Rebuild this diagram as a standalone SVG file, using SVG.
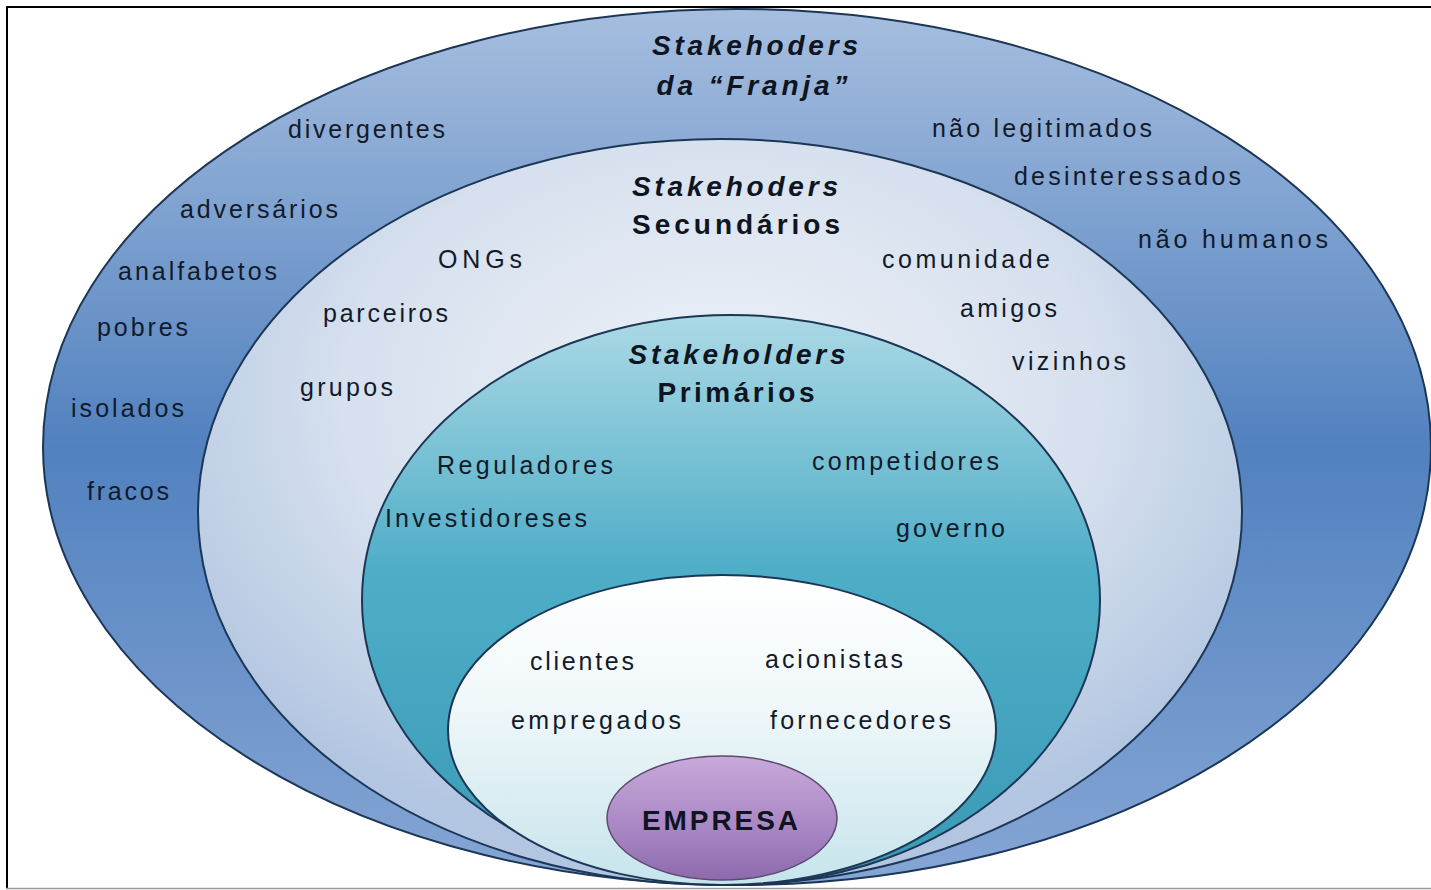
<svg xmlns="http://www.w3.org/2000/svg" width="1431" height="890" viewBox="0 0 1431 890">
<defs>
<linearGradient id="gOuter" x1="0" y1="0" x2="0" y2="1">
<stop offset="0" stop-color="#a6bedf"/>
<stop offset="0.5" stop-color="#5181bf"/>
<stop offset="1" stop-color="#86a6d5"/>
</linearGradient>
<radialGradient id="gSec" cx="0.5" cy="0.35" r="0.6">
<stop offset="0" stop-color="#eef2f8"/>
<stop offset="0.6" stop-color="#d6e0ee"/>
<stop offset="1" stop-color="#b3c6e1"/>
</radialGradient>
<linearGradient id="gPri" x1="0" y1="0" x2="0" y2="1">
<stop offset="0" stop-color="#acd9e5"/>
<stop offset="0.45" stop-color="#4eadc7"/>
<stop offset="1" stop-color="#3a9ab5"/>
</linearGradient>
<linearGradient id="gIn" x1="0" y1="0" x2="0" y2="1">
<stop offset="0" stop-color="#ffffff"/>
<stop offset="0.4" stop-color="#f1f8fa"/>
<stop offset="1" stop-color="#c6e4ec"/>
</linearGradient>
<linearGradient id="gEmp" x1="0" y1="0" x2="0" y2="1">
<stop offset="0" stop-color="#c9a9da"/>
<stop offset="0.6" stop-color="#a885c3"/>
<stop offset="1" stop-color="#8d6aad"/>
</linearGradient>
<style>
.ring{stroke:#1c3656;stroke-width:2}
.t{font-family:"Liberation Sans",Arial,sans-serif;font-size:25px;fill:#121a2a}
.h{font-family:"Liberation Sans",Arial,sans-serif;font-size:28px;font-weight:bold;fill:#0e1420}
.hi{font-style:italic}
</style>
</defs>
<rect x="0" y="0" width="1431" height="890" fill="#ffffff"/>
<g id="frame">
<line x1="6" y1="7" x2="1431" y2="7" stroke="#000" stroke-width="2"/>
<line x1="7" y1="6" x2="7" y2="889" stroke="#000" stroke-width="2"/>
<line x1="6" y1="888.5" x2="1431" y2="888.5" stroke="#9a9a9a" stroke-width="1.5"/>
</g>
<g id="connectors"></g>
<g id="franja">
<ellipse class="ring" cx="737" cy="447" rx="694" ry="438" fill="url(#gOuter)"/>
<text class="h hi" x="755" y="55" text-anchor="middle" textLength="206" lengthAdjust="spacing">Stakehoders</text>
<text class="h hi" x="752" y="95" text-anchor="middle" textLength="191" lengthAdjust="spacing">da “Franja”</text>
<text class="t" x="288" y="138" textLength="157" lengthAdjust="spacing">divergentes</text>
<text class="t" x="180" y="218" textLength="158" lengthAdjust="spacing">adversários</text>
<text class="t" x="118" y="280" textLength="159" lengthAdjust="spacing">analfabetos</text>
<text class="t" x="97" y="336" textLength="91" lengthAdjust="spacing">pobres</text>
<text class="t" x="71" y="417" textLength="113" lengthAdjust="spacing">isolados</text>
<text class="t" x="87" y="500" textLength="82" lengthAdjust="spacing">fracos</text>
<text class="t" x="932" y="137" textLength="220" lengthAdjust="spacing">não legitimados</text>
<text class="t" x="1014" y="185" textLength="227" lengthAdjust="spacing">desinteressados</text>
<text class="t" x="1138" y="248" textLength="190" lengthAdjust="spacing">não humanos</text>
</g>
<g id="secundarios">
<ellipse class="ring" cx="720" cy="512" rx="522" ry="373" fill="url(#gSec)"/>
<text class="h hi" x="735" y="196" text-anchor="middle" textLength="206" lengthAdjust="spacing">Stakehoders</text>
<text class="h" x="736" y="234" text-anchor="middle" textLength="208" lengthAdjust="spacing">Secundários</text>
<text class="t" x="438" y="268" textLength="84" lengthAdjust="spacing">ONGs</text>
<text class="t" x="323" y="322" textLength="125" lengthAdjust="spacing">parceiros</text>
<text class="t" x="300" y="396" textLength="93" lengthAdjust="spacing">grupos</text>
<text class="t" x="882" y="268" textLength="168" lengthAdjust="spacing">comunidade</text>
<text class="t" x="960" y="317" textLength="97" lengthAdjust="spacing">amigos</text>
<text class="t" x="1012" y="370" textLength="114" lengthAdjust="spacing">vizinhos</text>
</g>
<g id="primarios">
<ellipse class="ring" cx="731" cy="600" rx="369" ry="285" fill="url(#gPri)"/>
<text class="h hi" x="737" y="364" text-anchor="middle" textLength="217" lengthAdjust="spacing">Stakeholders</text>
<text class="h" x="736" y="402" text-anchor="middle" textLength="157" lengthAdjust="spacing">Primários</text>
<text class="t" x="437" y="474" textLength="176" lengthAdjust="spacing">Reguladores</text>
<text class="t" x="385" y="527" textLength="202" lengthAdjust="spacing">Investidoreses</text>
<text class="t" x="812" y="470" textLength="187" lengthAdjust="spacing">competidores</text>
<text class="t" x="896" y="537" textLength="109" lengthAdjust="spacing">governo</text>
</g>
<g id="internos">
<ellipse class="ring" cx="722" cy="730" rx="274" ry="155" fill="url(#gIn)"/>
<text class="t" x="530" y="670" textLength="104" lengthAdjust="spacing">clientes</text>
<text class="t" x="765" y="668" textLength="138" lengthAdjust="spacing">acionistas</text>
<text class="t" x="511" y="729" textLength="170" lengthAdjust="spacing">empregados</text>
<text class="t" x="770" y="729" textLength="181" lengthAdjust="spacing">fornecedores</text>
</g>
<g id="empresa">
<ellipse cx="722" cy="818" rx="115" ry="62" fill="url(#gEmp)" stroke="#5c4a6e" stroke-width="1.5"/>
<text class="h" x="720" y="830" text-anchor="middle" font-size="26" textLength="156" lengthAdjust="spacing">EMPRESA</text>
</g>
</svg>
